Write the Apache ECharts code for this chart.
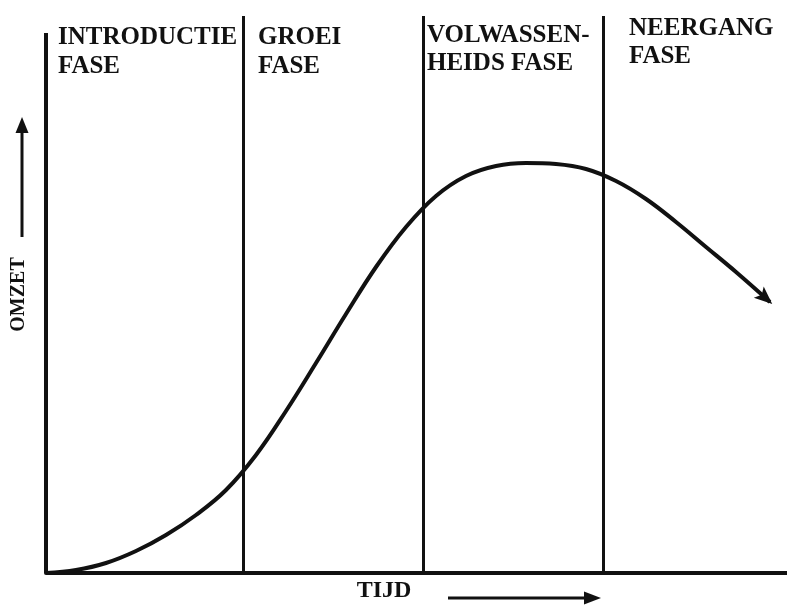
<!DOCTYPE html>
<html>
<head>
<meta charset="utf-8">
<script src="https://cdn.jsdelivr.net/npm/echarts@6/dist/echarts.min.js"></script>
<style>
  html, body { margin: 0; padding: 0; background: #fff; }
  #chart { width: 787px; height: 605px; }
</style>
</head>
<body>
<div id="chart"></div>
<script>
// levenscyclus: tijd (x) en omzet (y)
const tijd  = [0, 30, 60, 90, 120, 150, 180, 210, 240, 270, 300, 330, 360, 390, 420, 450, 480, 510, 540, 570, 600, 630, 660, 690, 724];
const omzet = [0, 3, 10, 22, 38, 58, 83, 118, 162, 210, 259, 306, 346, 377, 397, 407, 410, 409, 404, 392, 374, 351, 326, 301, 271];
// grenzen tussen de fasen (op de tijd-as)
const grenzen = [197, 377, 557];
const fasen = ['INTRODUCTIE\nFASE', 'GROEI\nFASE', 'VOLWASSEN-\nHEIDS FASE', 'NEERGANG\nFASE'];
const tijdMax = 741;
const omzetMax = 557;
const yAsTop = 540;

const ink = '#111111';
const serif = '"Liberation Serif", "DejaVu Serif", serif';

const curve = tijd.map((t, i) => [t, omzet[i]]);
const labelPos = [[58, 23, 29], [258, 23, 29], [427, 22, 28], [629, 15, 28]];

const chart = echarts.init(document.getElementById('chart'));

const staticGraphics = [
  ...fasen.map((f, i) => ({
    type: 'text',
    id: 'fase' + i,
    x: labelPos[i][0],
    y: labelPos[i][1],
    style: {
      text: f,
      fill: ink,
      font: 'bold 25px ' + serif,
      lineHeight: labelPos[i][2],
    },
  })),
  {
    type: 'text',
    id: 'tijd',
    x: 384,
    y: 591,
    style: {
      text: 'TIJD',
      fill: ink,
      font: 'bold 24px ' + serif,
      align: 'center',
      verticalAlign: 'middle',
    },
  },
  // pijl omzet
  { type: 'line', id: 'pyl', shape: { x1: 22, y1: 237, x2: 22, y2: 130 }, style: { stroke: ink, lineWidth: 3 } },
  { type: 'polygon', id: 'pyh', shape: { points: [[22, 117], [15.5, 133], [28.5, 133]] }, style: { fill: ink } },
  // pijl tijd
  { type: 'line', id: 'pxl', shape: { x1: 448, y1: 598, x2: 588, y2: 598 }, style: { stroke: ink, lineWidth: 3 } },
  { type: 'polygon', id: 'pxh', shape: { points: [[601, 598], [584, 591.5], [584, 604.5]] }, style: { fill: ink } },
];

const option = {
  animation: false,
  backgroundColor: '#ffffff',
  grid: { left: 46, right: 0, top: 16, bottom: 32 },
  xAxis: {
    type: 'value',
    min: 0,
    max: tijdMax,
    axisLine: { show: true, lineStyle: { color: ink, width: 4 } },
    axisTick: { show: false },
    axisLabel: { show: false },
    splitLine: { show: false },
  },
  yAxis: {
    type: 'value',
    min: 0,
    max: omzetMax,
    name: 'OMZET',
    nameLocation: 'middle',
    nameRotate: 90,
    nameGap: 17,
    nameTextStyle: { color: ink, fontFamily: serif, fontWeight: 'bold', fontSize: 20 },
    axisLine: { show: false },
    axisTick: { show: false },
    axisLabel: { show: false },
    splitLine: { show: false },
  },
  series: [
    {
      type: 'line',
      data: curve,
      smooth: 0.4,
      symbol: 'none',
      clip: false,
      lineStyle: { color: ink, width: 4 },
      markLine: {
        silent: true,
        symbol: 'none',
        label: { show: false },
        lineStyle: { color: ink, width: 3, type: 'solid' },
        data: grenzen.map(g => ({ xAxis: g })).concat([
          [
            { coord: [0, 0], lineStyle: { width: 4 } },
            { coord: [0, yAsTop] },
          ],
        ]),
      },
    },
  ],
  graphic: staticGraphics,
};
chart.setOption(option);

// pijlpunt aan het eind van de curve, uit de laatste twee punten
const n = curve.length;
const p1 = chart.convertToPixel({ gridIndex: 0 }, curve[n - 2]);
const p2 = chart.convertToPixel({ gridIndex: 0 }, curve[n - 1]);
const dx = p2[0] - p1[0], dy = p2[1] - p1[1];
const len = Math.sqrt(dx * dx + dy * dy);
const ux = dx / len, uy = dy / len;
const px = -uy, py = ux;
const tip = [p2[0] + ux * 3, p2[1] + uy * 3];
const headLen = 18, halfW = 7.5, notch = 4;
const base = [tip[0] - ux * headLen, tip[1] - uy * headLen];
const head = [
  tip,
  [base[0] + px * halfW, base[1] + py * halfW],
  [tip[0] - ux * (headLen - notch), tip[1] - uy * (headLen - notch)],
  [base[0] - px * halfW, base[1] - py * halfW],
];
chart.setOption({
  graphic: staticGraphics.concat([
    { type: 'polygon', id: 'kop', z: 10, shape: { points: head }, style: { fill: ink } },
  ]),
});
</script>
</body>
</html>
